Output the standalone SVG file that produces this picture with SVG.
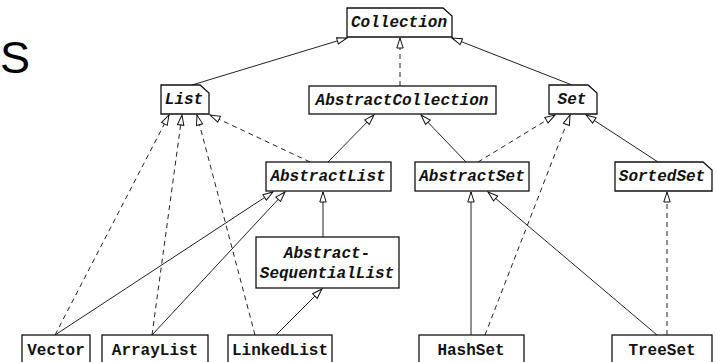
<svg xmlns="http://www.w3.org/2000/svg" width="716" height="362" viewBox="0 0 716 362">
<defs>
<style>
.box{fill:#fff;stroke:#111;stroke-width:1.3}
.t{font-family:"Liberation Mono","DejaVu Sans Mono",monospace;font-size:16px;font-weight:bold;text-anchor:middle;fill:#111}
.i{font-style:italic}
.c{stroke:#222;stroke-width:1;fill:none}
.d{stroke-dasharray:5,4}
</style>
<marker id="tri" markerWidth="12" markerHeight="9" refX="11" refY="4" orient="auto" markerUnits="userSpaceOnUse">
<path d="M1,0.8 L11,4 L1,7.2 Z" fill="#fff" stroke="#111" stroke-width="1"/>
</marker>
</defs>
<rect width="716" height="362" fill="#fff"/>
<text x="0" y="73" font-family="Liberation Sans, Arial, sans-serif" font-size="45" fill="#000">S</text>
<g id="connectors">
<line class="c" x1="192" y1="85" x2="347" y2="38" marker-end="url(#tri)"/>
<line class="c d" x1="400" y1="86" x2="400" y2="38" marker-end="url(#tri)"/>
<line class="c" x1="572" y1="85" x2="452" y2="38" marker-end="url(#tri)"/>
<line class="c d" x1="310" y1="162" x2="210" y2="115" marker-end="url(#tri)"/>
<line class="c" x1="328" y1="162" x2="374" y2="115" marker-end="url(#tri)"/>
<line class="c" x1="466" y1="162" x2="421" y2="115" marker-end="url(#tri)"/>
<line class="c d" x1="478" y1="162" x2="555" y2="115" marker-end="url(#tri)"/>
<line class="c d" x1="485" y1="335" x2="570" y2="115" marker-end="url(#tri)"/>
<line class="c" x1="658" y1="162" x2="586" y2="115" marker-end="url(#tri)"/>
<line class="c" x1="323" y1="237" x2="323" y2="192" marker-end="url(#tri)"/>
<line class="c" x1="471" y1="335" x2="471" y2="192" marker-end="url(#tri)"/>
<line class="c" x1="657" y1="335" x2="488" y2="192" marker-end="url(#tri)"/>
<line class="c d" x1="667" y1="335" x2="667" y2="192" marker-end="url(#tri)"/>
<line class="c d" x1="55" y1="335" x2="169" y2="115" marker-end="url(#tri)"/>
<line class="c d" x1="152" y1="335" x2="182" y2="115" marker-end="url(#tri)"/>
<line class="c d" x1="255" y1="335" x2="197" y2="115" marker-end="url(#tri)"/>
<line class="c" x1="55" y1="335" x2="273" y2="192" marker-end="url(#tri)"/>
<line class="c" x1="152" y1="335" x2="285" y2="192" marker-end="url(#tri)"/>
<line class="c" x1="276" y1="335" x2="322" y2="289" marker-end="url(#tri)"/>
</g>
<g id="Collection">
<path class="box" d="M347,8 H443 L452,16 V37 H347 Z"/>
<text class="t i" x="399" y="27">Collection</text>
</g>
<g id="List">
<path class="box" d="M161,85 H200 L209,93 V114 H161 Z"/>
<text class="t i" x="184" y="104">List</text>
</g>
<g id="AbstractCollection">
<rect class="box" x="309" y="86" width="187" height="28"/>
<text class="t i" x="402" y="105">AbstractCollection</text>
</g>
<g id="Set">
<path class="box" d="M549,85 H588 L597,93 V114 H549 Z"/>
<text class="t i" x="572" y="104">Set</text>
</g>
<g id="AbstractList">
<rect class="box" x="266" y="162" width="125" height="29"/>
<text class="t i" x="328" y="181">AbstractList</text>
</g>
<g id="AbstractSet">
<rect class="box" x="415" y="162" width="114" height="29"/>
<text class="t i" x="472" y="181">AbstractSet</text>
</g>
<g id="SortedSet">
<path class="box" d="M615,162 H703 L712,170 V191 H615 Z"/>
<text class="t i" x="662" y="181">SortedSet</text>
</g>
<g id="AbstractSequentialList">
<rect class="box" x="256" y="237" width="143" height="51"/>
<text class="t i" x="327" y="258">Abstract-</text>
<text class="t i" x="327" y="278">SequentialList</text>
</g>
<g id="Vector">
<rect class="box" x="22" y="335" width="68" height="35"/>
<text class="t" x="56" y="355">Vector</text>
</g>
<g id="ArrayList">
<rect class="box" x="102" y="335" width="106" height="35"/>
<text class="t" x="155" y="355">ArrayList</text>
</g>
<g id="LinkedList">
<rect class="box" x="228" y="335" width="104" height="35"/>
<text class="t" x="280" y="355">LinkedList</text>
</g>
<g id="HashSet">
<rect class="box" x="419" y="335" width="105" height="35"/>
<text class="t" x="471" y="355">HashSet</text>
</g>
<g id="TreeSet">
<rect class="box" x="612" y="335" width="100" height="35"/>
<text class="t" x="662" y="355">TreeSet</text>
</g>
</svg>
